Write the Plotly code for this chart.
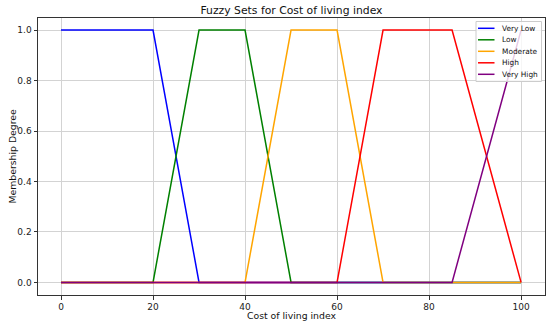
import plotly.graph_objects as go

names = ["Very Low", "Low", "Moderate", "High", "Very High"]
colors = ["blue", "green", "orange", "red", "purple"]
xs = [
    [0, 20, 30, 100],
    [0, 20, 30, 40, 50, 100],
    [0, 40, 50, 60, 70, 100],
    [0, 60, 70, 85, 100],
    [0, 85, 100],
]
ys = [
    [1, 1, 0, 0],
    [0, 0, 1, 1, 0, 0],
    [0, 0, 1, 1, 0, 0],
    [0, 0, 1, 1, 0],
    [0, 0, 1],
]
xticks = [0, 20, 40, 60, 80, 100]
yticks = [0.0, 0.2, 0.4, 0.6, 0.8, 1.0]

W, H = 550, 326
ML, MR, MT, MB = 38, 5, 18, 31
PW, PH = W - ML - MR, H - MT - MB


def px(xp):
    return (xp - ML) / PW


def py(yp):
    return (H - MB - yp) / PH


fig = go.Figure()
for n, c, x, y in zip(names, colors, xs, ys):
    fig.add_trace(go.Scatter(x=x, y=y, mode="lines", name=n,
                             line=dict(color=c, width=1.5), showlegend=False))

axis_common = dict(showline=True, linecolor="#333", linewidth=1, mirror=True,
                   showgrid=True, gridcolor="#d3d3d3", gridwidth=1,
                   ticks="outside", ticklen=3.5, tickcolor="#333",
                   zeroline=False, tickfont=dict(size=9, color="#222"),
                   automargin=False)

shapes = []
annotations = []
# legend box
shapes.append(dict(type="rect", xref="paper", yref="paper",
                   x0=px(476), x1=px(541.5), y0=py(81.5), y1=py(21.5),
                   line=dict(color="#cccccc", width=1),
                   fillcolor="rgba(255,255,255,0.8)", layer="above"))
for i, (n, c) in enumerate(zip(names, colors)):
    yc = 28.3 + 11.5 * i
    shapes.append(dict(type="line", xref="paper", yref="paper",
                       x0=px(478), x1=px(494.5), y0=py(yc), y1=py(yc),
                       line=dict(color=c, width=1.5), layer="above"))
    annotations.append(dict(text=n, xref="paper", yref="paper", x=px(500), y=py(yc),
                            xanchor="left", yanchor="middle", showarrow=False,
                            font=dict(size=7.4, color="#111")))

annotations.append(dict(text="Cost of living index", xref="paper", yref="paper",
                        x=0.5, y=py(315.5), xanchor="center", yanchor="middle",
                        showarrow=False, font=dict(size=9.3, color="#111")))
annotations.append(dict(text="Membership Degree", xref="paper", yref="paper",
                        x=px(12), y=0.5, xanchor="center", yanchor="middle",
                        textangle=-90, showarrow=False,
                        font=dict(size=9.3, color="#111")))

fig.update_layout(
    width=W, height=H,
    margin=dict(l=ML, r=MR, t=MT, b=MB),
    paper_bgcolor="white", plot_bgcolor="white",
    font=dict(family="DejaVu Sans", color="#111"),
    title=dict(text="Fuzzy Sets for Cost of living index", xref="paper", x=0.5,
               xanchor="center", yref="container", y=1 - 10 / H, yanchor="middle",
               font=dict(size=10.8)),
    xaxis=dict(range=[-5, 105.2], tickvals=xticks, ticktext=[str(t) for t in xticks],
               **axis_common),
    yaxis=dict(range=[-0.05, 1.048], tickvals=yticks,
               ticktext=[f"{t:.1f}" for t in yticks],
               **axis_common),
    shapes=shapes,
    annotations=annotations,
    showlegend=False,
)
fig.write_html("out.html", config={"displayModeBar": False},
               post_script="document.body.style.margin='0';document.body.style.overflow='hidden';")
